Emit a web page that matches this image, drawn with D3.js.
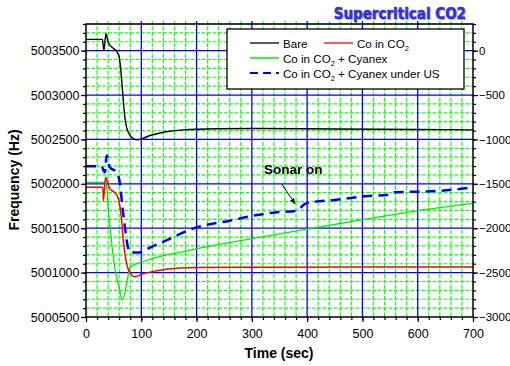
<!DOCTYPE html>
<html>
<head>
<meta charset="utf-8">
<script src="https://cdn.jsdelivr.net/npm/d3@7"></script>
<style>
  body { margin: 0; background: #fff; }
  svg { display: block; font-family: Arial, "Liberation Sans", sans-serif; }
</style>
</head>
<body>
<div class="chart"></div>
<script>
// time (sec) / frequency (Hz)
const bareT = [0, 29.5, 32.5, 36, 40, 46.5, 55, 60, 63, 66, 69, 72, 76.5, 82.6, 91.6, 100.7, 116, 140, 176, 236, 306, 450, 600, 700];
const bareF = [5003627, 5003627, 5003503, 5003692, 5003597, 5003541, 5003495, 5003428, 5003278, 5003052, 5002826, 5002679, 5002581, 5002525, 5002495, 5002507, 5002544, 5002581, 5002608, 5002620, 5002623, 5002618, 5002612, 5002608];

const redT = [0, 30.5, 31.5, 35.5, 43, 52, 58, 64, 67, 73.5, 79.5, 88.6, 103, 128, 170, 205, 300, 500, 700];
const redF = [5001960, 5001960, 5001810, 5002073, 5001946, 5001901, 5001844, 5001618, 5001393, 5001099, 5001001, 5000953, 5000986, 5001020, 5001051, 5001058, 5001060, 5001062, 5001062];

const greenT = [0, 33, 36, 40, 46, 52, 60, 66, 73.5, 79.5, 84, 103.6, 140, 170, 203, 306, 401, 501, 601, 700];
const greenF = [5002017, 5002017, 5002050, 5001735, 5001359, 5001058, 5000832, 5000690, 5000874, 5001058, 5001077, 5001125, 5001190, 5001227, 5001272, 5001389, 5001491, 5001596, 5001698, 5001780];

const blueT = [0, 28, 34, 37.4, 43, 55.5, 61.5, 66, 70.5, 74.7, 80, 97, 110, 140, 200, 260, 306, 342, 381, 396, 405, 450, 505, 547, 553, 601, 643, 700];
const blueF = [5002197, 5002197, 5002130, 5002318, 5002186, 5002130, 5001999, 5001735, 5001509, 5001322, 5001227, 5001227, 5001265, 5001348, 5001509, 5001585, 5001645, 5001678, 5001697, 5001773, 5001791, 5001818, 5001859, 5001878, 5001904, 5001912, 5001923, 5001960];

const xTicks = [0, 100, 200, 300, 400, 500, 600, 700];
const yTicks = [5000500, 5001000, 5001500, 5002000, 5002500, 5003000, 5003500];
const y2Ticks = [-3000, -2500, -2000, -1500, -1000, -500, 0];

const seriesNames = ["Bare", "Co in CO2", "Co in CO2 + Cyanex", "Co in CO2 + Cyanex under US"];
const sonarNote = { text: "Sonar on", from: [354, 5001999], to: [378, 5001776] };

class FreqChart {
    constructor(selector) {
        this.selector = selector;
        this.margin = { top: 24, right: 37, bottom: 49, left: 86 };
        this.width = 510 - this.margin.left - this.margin.right;
        this.height = 366 - this.margin.top - this.margin.bottom;
        this.initVis();
        this.renderVis();
    }

    initVis() {
        this.x = d3.scaleLinear().domain([0, 700]).range([0, this.width]);
        this.y = d3.scaleLinear().domain([5000500, 5003800]).range([this.height, 0]);
        this.y2 = d3.scaleLinear().domain([-3000, 300]).range([this.height, 0]);

        this.root = d3.select(this.selector)
            .append("svg")
            .attr("width", 510)
            .attr("height", 366);

        this.svg = this.root.append("g")
            .attr("transform", `translate(${this.margin.left}, ${this.margin.top})`);
    }

    renderVis() {
        const x = this.x, y = this.y, y2 = this.y2;
        const w = this.width, h = this.height;

        // grid: minor green dashes, major blue
        const minorX = d3.range(0, 701, 20).filter(d => d % 100 !== 0);
        const minorY = d3.range(5000500, 5003801, 100).filter(d => d % 500 !== 0);

        const grid = this.svg.append("g");
        grid.selectAll(".gx").data(minorX).join("line")
            .attr("x1", d => x(d)).attr("x2", d => x(d))
            .attr("y1", -3).attr("y2", h)
            .attr("stroke", "#11ff11").attr("stroke-width", 1.2)
            .attr("stroke-dasharray", "4,1.5");
        grid.selectAll(".gy").data(minorY).join("line")
            .attr("x1", 0).attr("x2", w)
            .attr("y1", d => y(d)).attr("y2", d => y(d))
            .attr("stroke", "#11ff11").attr("stroke-width", 1.2)
            .attr("stroke-dasharray", "4,1.5");
        grid.selectAll(".bx").data(xTicks.slice(1, -1)).join("line")
            .attr("x1", d => x(d)).attr("x2", d => x(d))
            .attr("y1", -3).attr("y2", h)
            .attr("stroke", "#0000ff").attr("stroke-width", 1.3);
        grid.selectAll(".by").data(yTicks.slice(1)).join("line")
            .attr("x1", 0).attr("x2", w)
            .attr("y1", d => y(d)).attr("y2", d => y(d))
            .attr("stroke", "#0000ff").attr("stroke-width", 1.3);

        // curves
        const line = d3.line()
            .x(d => x(d[0]))
            .y(d => y(d[1]))
            .curve(d3.curveMonotoneX);

        const series = [
            { t: greenT, f: greenF, color: "#00ee00", width: 1.3, dash: null },
            { t: blueT, f: blueF, color: "#0000ff", width: 2.5, dash: "10,6" },
            { t: redT, f: redF, color: "#ff0000", width: 1.5, dash: null },
            { t: bareT, f: bareF, color: "#000000", width: 1.4, dash: null }
        ];

        this.svg.selectAll(".series")
            .data(series)
            .join("path")
            .attr("class", "series")
            .attr("d", s => line(s.t.map((t, i) => [t, s.f[i]])))
            .attr("fill", "none")
            .attr("stroke", s => s.color)
            .attr("stroke-width", s => s.width)
            .attr("stroke-dasharray", s => s.dash);

        // frame
        this.svg.append("rect")
            .attr("width", w).attr("height", h)
            .attr("fill", "none").attr("stroke", "#000").attr("stroke-width", 1.5);

        // axes
        const styleAxis = size => g => {
            g.select(".domain").remove();
            g.selectAll("line").attr("stroke", "#000").attr("stroke-width", 1.2);
            g.selectAll("text").attr("font-size", size).attr("fill", "#000")
                .attr("font-family", "Arial, 'Liberation Sans', sans-serif");
        };

        this.svg.append("g")
            .attr("transform", `translate(0, ${h})`)
            .call(d3.axisBottom(x).tickValues(d3.range(0, 701, 20)).tickSize(3).tickFormat(""))
            .call(styleAxis("12.5px"));
        this.svg.append("g")
            .attr("transform", `translate(0, ${h})`)
            .call(d3.axisBottom(x).tickValues(xTicks).tickSize(5).tickPadding(7).tickFormat(d3.format("d")))
            .call(styleAxis("12.5px"));

        this.svg.append("g")
            .call(d3.axisLeft(y).tickValues(d3.range(5000500, 5003801, 100)).tickSize(3).tickFormat(""))
            .call(styleAxis("12.5px"));
        this.svg.append("g")
            .call(d3.axisLeft(y).tickValues(yTicks).tickSize(5).tickPadding(1.5).tickFormat(d3.format("d")))
            .call(styleAxis("12.5px"));

        this.svg.append("g")
            .attr("transform", `translate(${w}, 0)`)
            .call(d3.axisRight(y2).tickValues(d3.range(-3000, 301, 100)).tickSize(3).tickFormat(""))
            .call(styleAxis("11.5px"));
        this.svg.append("g")
            .attr("transform", `translate(${w}, 0)`)
            .call(d3.axisRight(y2).tickValues(y2Ticks).tickSize(5).tickPadding(1).tickFormat(d3.format("d")))
            .call(styleAxis("11.5px"));

        // axis titles
        this.root.append("text")
            .attr("x", 279).attr("y", 358)
            .attr("text-anchor", "middle")
            .attr("font-size", "14px").attr("font-weight", "bold")
            .text("Time (sec)");
        this.root.append("text")
            .attr("transform", "translate(19, 180) rotate(-90)")
            .attr("text-anchor", "middle")
            .attr("font-size", "14px").attr("font-weight", "bold")
            .text("Frequency (Hz)");

        // title
        const title = this.root.append("g");
        title.append("text")
            .attr("x", 467).attr("y", 20)
            .attr("text-anchor", "end")
            .attr("font-family", "'Liberation Sans Narrow', 'DejaVu Sans Condensed', sans-serif")
            .attr("font-size", "15px").attr("font-weight", "bold")
            .attr("fill", "#aaaaee")
            .text("Supercritical CO2");
        title.append("text")
            .attr("x", 466).attr("y", 19)
            .attr("text-anchor", "end")
            .attr("font-family", "'Liberation Sans Narrow', 'DejaVu Sans Condensed', sans-serif")
            .attr("font-size", "15px").attr("font-weight", "bold")
            .attr("fill", "#3333cc").attr("stroke", "#3333cc").attr("stroke-width", 0.5)
            .text("Supercritical CO2");

        // legend
        const lg = this.root.append("g");
        lg.append("rect")
            .attr("x", 227).attr("y", 29).attr("width", 237).attr("height", 60)
            .attr("fill", "#fff").attr("stroke", "#000").attr("stroke-width", 1.3);

        const items = [
            { name: seriesNames[0], color: "#000", dash: null, w: 1.3, x: 250, y: 43 },
            { name: seriesNames[1], color: "#ff0000", dash: null, w: 1.3, x: 324, y: 43 },
            { name: seriesNames[2], color: "#00ee00", dash: null, w: 1.5, x: 250, y: 58 },
            { name: seriesNames[3], color: "#0000ff", dash: "8,5", w: 2, x: 250, y: 73 }
        ];

        const entry = lg.selectAll(".entry")
            .data(items)
            .join("g")
            .attr("class", "entry")
            .attr("transform", d => `translate(${d.x}, ${d.y})`);

        entry.append("line")
            .attr("x1", 0).attr("x2", 29)
            .attr("stroke", d => d.color)
            .attr("stroke-width", d => d.w)
            .attr("stroke-dasharray", d => d.dash);

        entry.append("text")
            .attr("x", 33).attr("y", 4.5)
            .attr("font-size", "11.6px")
            .each(function (d) {
                const t = d3.select(this);
                const parts = d.name.split("CO2");
                if (parts.length === 1) {
                    t.text(d.name);
                    return;
                }
                t.append("tspan").text(parts[0] + "CO");
                t.append("tspan").attr("font-size", "7.5px").attr("dy", 3).text("2");
                t.append("tspan").attr("dy", -3).text(parts[1]);
            });

        // annotation
        this.root.append("defs").append("marker")
            .attr("id", "arrow")
            .attr("viewBox", "0 0 10 10")
            .attr("refX", 9).attr("refY", 5)
            .attr("markerWidth", 6).attr("markerHeight", 6)
            .attr("orient", "auto")
            .append("path").attr("d", "M0,1 L10,5 L0,9 Z").attr("fill", "#000");

        this.svg.append("line")
            .attr("x1", x(sonarNote.from[0])).attr("y1", y(sonarNote.from[1]))
            .attr("x2", x(sonarNote.to[0])).attr("y2", y(sonarNote.to[1]))
            .attr("stroke", "#000").attr("stroke-width", 1)
            .attr("marker-end", "url(#arrow)");

        this.root.append("text")
            .attr("x", 264).attr("y", 174)
            .attr("font-size", "13.5px").attr("font-weight", "bold")
            .text(sonarNote.text);
    }
}

new FreqChart(".chart");
</script>
</body>
</html>
